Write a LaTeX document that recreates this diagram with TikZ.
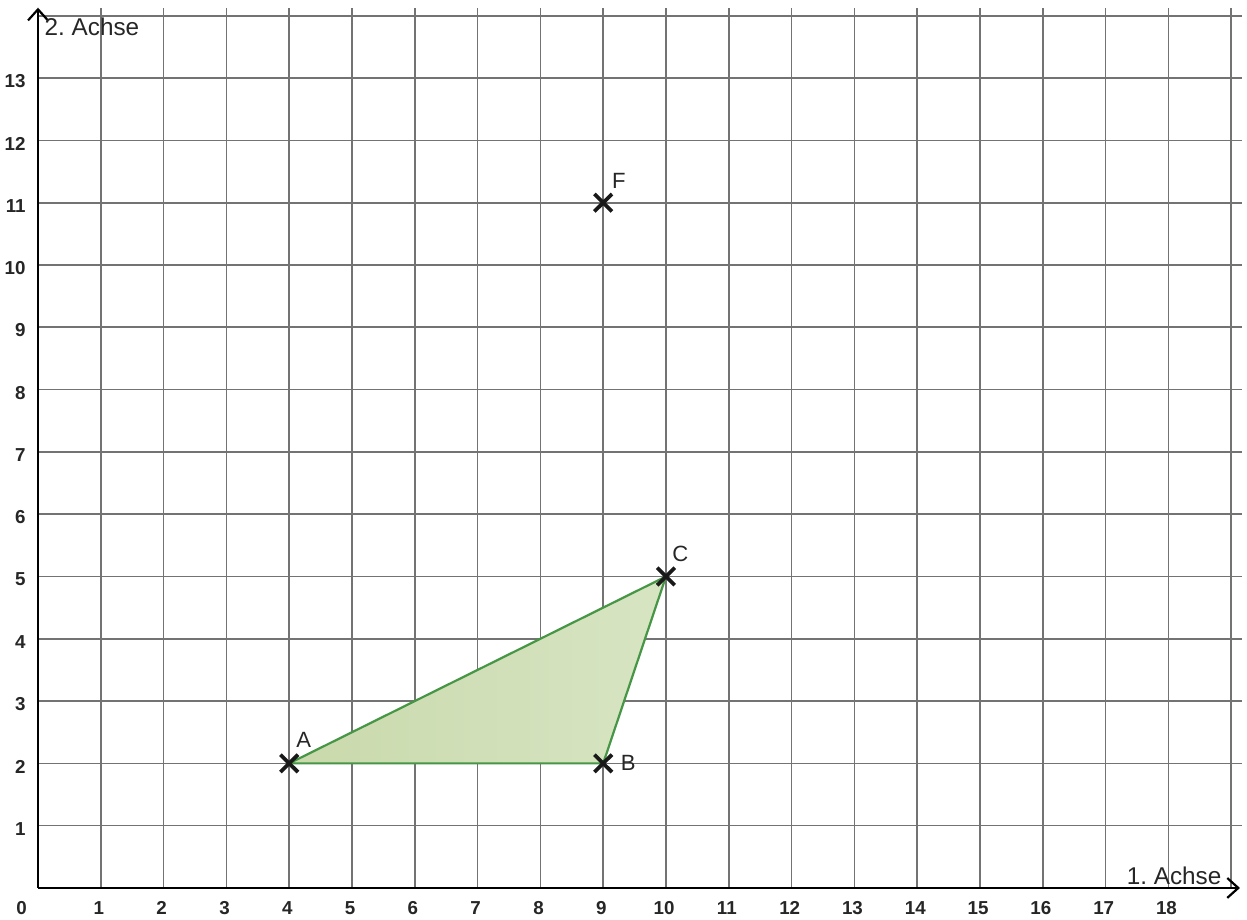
\documentclass[tikz,border=0pt]{standalone}
\usepackage{fontspec}
\setmainfont{Liberation Sans}
\usetikzlibrary{arrows.meta,calc}
\frenchspacing
\definecolor{gridgray}{RGB}{115,115,115}
\definecolor{edgegreen}{RGB}{70,150,70}
\definecolor{fillgreen}{RGB}{205,222,180}
\tikzset{
  gridline/.style={gridgray, line width=0.75pt},
  axis/.style={black, line width=1.3pt, -{Straight Barb[length=5pt,width=9pt,line width=1pt]}},
  tick/.style={font=\fontsize{8.5}{10}\selectfont\bfseries, text=black!85, inner sep=0pt},
  axislabel/.style={font=\fontsize{11}{13}\selectfont, text=black!85, inner sep=0pt},
  ptlabel/.style={font=\fontsize{10}{12}\selectfont, text=black!85, inner sep=0pt},
  crossmark/.style={black!90, line width=1.7pt},
  tri/.style={draw=edgegreen, line width=1pt, left color=fillgreen!95!olive, right color=fillgreen!80!white, line join=round}
}
\begin{document}
\begin{tikzpicture}[x=1cm, y=0.992cm]
\useasboundingbox (-0.605,-0.514) rectangle (19.252,14.254);
% grid
\foreach \i in {1,...,19} \draw[gridline] (\i,0) -- (\i,14.12);
\foreach \j in {1,...,14} \draw[gridline] (0,\j) -- (19.18,\j);
% triangle
\coordinate (A) at (4,2);
\coordinate (B) at (9,2);
\coordinate (C) at (10,5);
\coordinate (F) at (9,11);
\draw[tri] (A) -- (B) -- (C) -- cycle;
% axes
\coordinate (O) at (0,0);
\coordinate (xend) at (19.14,0);
\coordinate (yend) at (0,14.13);
\draw[axis] (O) -- (xend);
\draw[axis] (O) -- (yend);
% ticks
\node[tick] (t0) at (-0.26,-0.32) {0};
\foreach \i in {1,...,18} \node[tick] (tx\i) at (\i-0.03,-0.32) {\i};
\foreach \j in {1,...,13} \node[tick, anchor=east] (ty\j) at (-0.19,\j-0.05) {\j};
% axis labels
\node[axislabel, anchor=west] (lab2) at (0.1,13.82) {2. Achse};
\node[axislabel, anchor=east] (lab1) at (18.85,0.2) {1. Achse};
% crosses
\foreach \p in {A,B,C,F} {
  \draw[crossmark] ($(\p)+(-0.14,-0.14)$) -- ($(\p)+(0.14,0.14)$);
  \draw[crossmark] ($(\p)+(-0.14,0.14)$) -- ($(\p)+(0.14,-0.14)$);
}
\node[ptlabel] (la) at (4.23,2.38) {A};
\node[ptlabel] (lb) at (9.4,2.0) {B};
\node[ptlabel] (lc) at (10.23,5.37) {C};
\node[ptlabel] (lf) at (9.25,11.35) {F};
\end{tikzpicture}
\end{document}
